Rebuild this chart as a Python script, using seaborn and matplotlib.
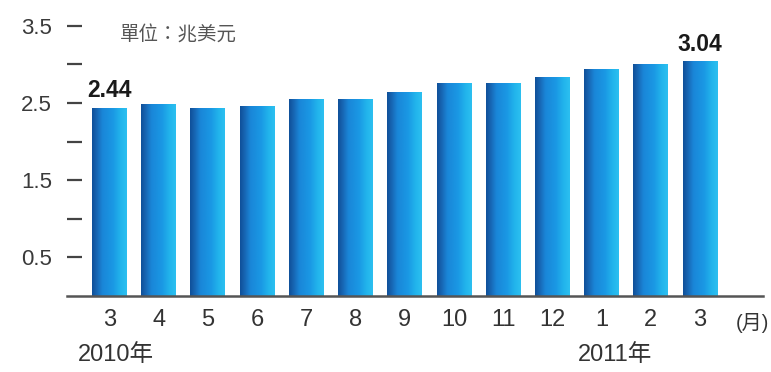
import numpy as np
import pandas as pd
import matplotlib
matplotlib.use("Agg")
import matplotlib.pyplot as plt
from matplotlib.colors import LinearSegmentedColormap
from matplotlib.ticker import FixedLocator, NullFormatter
import seaborn as sns

# Monthly totals, in trillion US dollars
months = ["3", "4", "5", "6", "7", "8", "9", "10", "11", "12", "1", "2", "3"]
values = [2.44, 2.49, 2.43, 2.46, 2.55, 2.55, 2.64, 2.76, 2.76, 2.84, 2.94, 3.01, 3.04]
labelled = {0: "2.44", 12: "3.04"}
unit_text = "單位：兆美元"
month_suffix = "(月)"
year_labels = [(-0.64, "2010年"), (9.52, "2011年")]

sns.set_theme(style="white")
plt.rcParams["font.family"] = ["Liberation Sans", "Noto Sans CJK TC", "DejaVu Sans"]
text_color = "#333333"

df = pd.DataFrame({"month": [f"{i}_{m}" for i, m in enumerate(months)], "value": values})

fig = plt.figure(figsize=(7.71, 3.72), dpi=100)
ax = fig.add_axes([67 / 771, 76 / 372, 696 / 771, 286 / 372])

sns.barplot(data=df, x="month", y="value", color="#1a90e0", width=0.71,
            saturation=1, ax=ax, zorder=2)

# Horizontal blue gradient inside every bar
grad_cmap = LinearSegmentedColormap.from_list(
    "bar_grad",
    [(0.0, "#0e4f98"), (0.12, "#1763b0"), (0.3, "#1a86d8"),
     (0.6, "#1a98e4"), (0.82, "#22b4ec"), (1.0, "#2cc0f0")])
gradient = np.linspace(0, 1, 256).reshape(1, -1)
for patch in list(ax.patches):
    x0, y0 = patch.get_x(), patch.get_y()
    w, h = patch.get_width(), patch.get_height()
    im = ax.imshow(gradient, extent=[x0, x0 + w, y0, y0 + h], aspect="auto",
                   cmap=grad_cmap, zorder=2.5, interpolation="bicubic")
    im.set_clip_path(patch)

ax.set_xlim(-0.864, 13.28)
ax.set_ylim(0, 3.705)
ax.set_aspect("auto")

# Axes styling
for side in ["top", "right", "left"]:
    ax.spines[side].set_visible(False)
ax.spines["bottom"].set_color("#555555")
ax.spines["bottom"].set_linewidth(1.8)
ax.spines["bottom"].set_zorder(3)

ax.set_xlabel("")
ax.set_ylabel("")
ax.set_xticks(range(len(months)))
ax.set_xticklabels(months)
ax.tick_params(axis="x", length=0, pad=9, labelsize=17, labelcolor=text_color)

ax.yaxis.set_major_locator(FixedLocator([0.5, 1.5, 2.5, 3.5]))
ax.yaxis.set_minor_locator(FixedLocator([1.0, 2.0, 3.0]))
ax.yaxis.set_minor_formatter(NullFormatter())
ax.set_yticklabels(["0.5", "1.5", "2.5", "3.5"])
ax.tick_params(axis="y", which="both", direction="in", length=10.8, width=1.6,
               color="#444444", left=True, labelsize=16, labelcolor="#3a3a3a", pad=10.8)

# Value labels above the first and last bars
for idx, txt in labelled.items():
    ax.annotate(txt, xy=(idx, values[idx]), xytext=(0, 4), textcoords="offset points",
                ha="center", va="bottom", fontsize=16.5, fontweight="bold",
                color="#1a1a1a", zorder=4)

# Unit note
ax.annotate(unit_text, xy=(0, 1), xycoords=("data", "axes fraction"),
            xytext=((120 - 109.5) * 0.72, -25 * 0.72), textcoords="offset points",
            ha="left", va="center", fontsize=14, color="#555555")

# Month suffix after the last tick label
ax.annotate(month_suffix, xy=(12.73, 0), xycoords=("data", "axes fraction"),
            xytext=(0, -27 * 0.72), textcoords="offset points",
            ha="left", va="center", fontsize=14.5, color=text_color)

# Year labels under the month ticks
for xpos, txt in year_labels:
    ax.annotate(txt, xy=(xpos, 0), xycoords=("data", "axes fraction"),
                xytext=(0, -59 * 0.72), textcoords="offset points",
                ha="left", va="center", fontsize=17, color=text_color)

fig.savefig("out.png", dpi=100)
